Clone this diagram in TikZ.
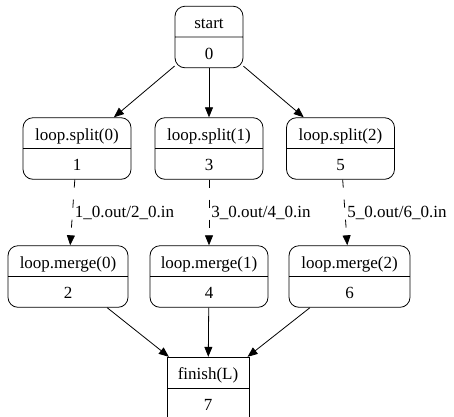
\documentclass[tikz,border=0pt]{standalone}
\usepackage{fontspec}
\setmainfont{Liberation Serif}
\usetikzlibrary{arrows.meta,shapes.multipart}
\newcommand{\rs}{\rule[-8pt]{0pt}{30pt}}

\begin{document}
\begin{tikzpicture}[x=1pt,y=-1pt,
rec/.style={rectangle split,rectangle split parts=2,draw,rounded corners=10pt,line width=0.8pt,inner ysep=0pt,inner xsep=3pt,font=\fontsize{17}{20}\selectfont},
sq/.style={rec,rounded corners=0pt},
arr/.style={-{Triangle[length=10pt,width=8pt]},line width=0.8pt},
dsh/.style={arr,dash pattern=on 8pt off 12pt},
lbl/.style={right,inner sep=2pt,font=\fontsize{17}{20}\selectfont}
]
\clip (0,0) rectangle (454,416);
\node[rec,minimum width=68pt] (st) at (209,37) {\rs start\nodepart{two}\rs 0};
\node[rec,minimum width=108pt] (s0) at (77,148.5) {\rs loop.split(0)\nodepart{two}\rs 1};
\node[rec,minimum width=108pt] (s1) at (209,148.5) {\rs loop.split(1)\nodepart{two}\rs 3};
\node[rec,minimum width=108pt] (s2) at (340.5,148.5) {\rs loop.split(2)\nodepart{two}\rs 5};
\node[rec,minimum width=120pt] (m0) at (68,276.5) {\rs loop.merge(0)\nodepart{two}\rs 2};
\node[rec,minimum width=118pt] (m1) at (209,276.5) {\rs loop.merge(1)\nodepart{two}\rs 4};
\node[rec,minimum width=121pt] (m2) at (349.5,276.5) {\rs loop.merge(2)\nodepart{two}\rs 6};
\node[sq,minimum width=82pt] (fin) at (208,388) {\rs finish(L)\nodepart{two}\rs 7};
\draw[arr] (st) -- (s0);
\draw[arr] (st) -- (s1);
\draw[arr] (st) -- (s2);
\draw[dsh] (s0) -- node[lbl]{1\_0.out/2\_0.in} (m0);
\draw[dsh] (s1) -- node[lbl]{3\_0.out/4\_0.in} (m1);
\draw[dsh] (s2) -- node[lbl]{5\_0.out/6\_0.in} (m2);
\draw[arr] (m0) -- (fin);
\draw[arr] (m1) -- (fin);
\draw[arr] (m2) -- (fin);
\end{tikzpicture}
\end{document}
